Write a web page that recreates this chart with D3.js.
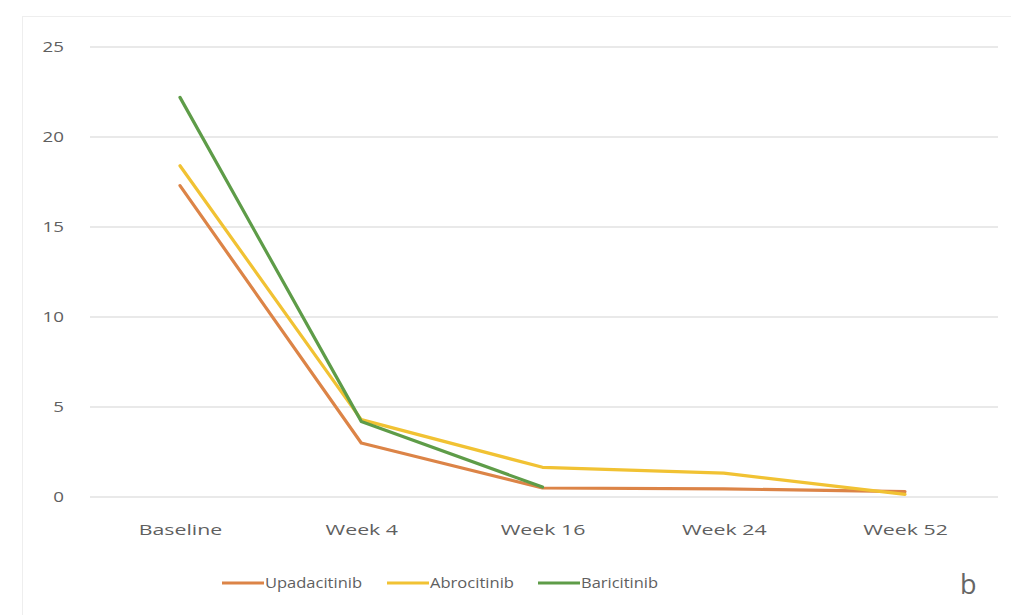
<!DOCTYPE html>
<html><head><meta charset="utf-8">
<script src="https://cdn.jsdelivr.net/npm/d3@7"></script>
<style>body{margin:0;background:#fff;} svg{display:block;}</style>
</head><body>
<svg id="c" width="1011" height="615"></svg>
<script>
const categories = ["Baseline", "Week 4", "Week 16", "Week 24", "Week 52"];
const upadacitinib = [17.3, 3.0, 0.5, 0.45, 0.3];
const abrocitinib = [18.4, 4.3, 1.65, 1.33, 0.15];
const baricitinib = [22.2, 4.2, 0.55];
const yTicks = [0, 5, 10, 15, 20, 25];
const seriesNames = ["Upadacitinib", "Abrocitinib", "Baricitinib"];
const seriesColors = ["#dc8447", "#f1c233", "#5e9c48"];

const series = [upadacitinib, abrocitinib, baricitinib];
const svg = d3.select("#c");
const font = "'Open Sans', sans-serif";
const textColor = "#5f5f5f";

// faint chart border
svg.append("rect").attr("x", 22.5).attr("y", 16.5).attr("width", 1000).attr("height", 620)
  .attr("fill", "none").attr("stroke", "#eeeeee");

const x = d3.scalePoint().domain(categories).range([180, 905]);
const y = d3.scaleLinear().domain([0, 25]).range([497, 47]);

const grid = svg.append("g");
grid.selectAll("line").data(yTicks).join("line")
  .attr("x1", 90).attr("x2", 998)
  .attr("y1", d => y(d)).attr("y2", d => y(d))
  .attr("stroke", "#e2e2e2").attr("stroke-width", 1.5);

const yAxis = svg.append("g").attr("transform", "translate(64,0)")
  .call(d3.axisLeft(y).tickValues(yTicks).tickSize(0).tickPadding(0));
yAxis.select(".domain").remove();
yAxis.selectAll("text").attr("font-family", font).attr("font-size", 15).attr("fill", textColor)
  .attr("transform", "scale(1.25,1)");

const xAxis = svg.append("g").attr("transform", "translate(0,530)")
  .call(d3.axisBottom(x).tickSize(0).tickPadding(0));
xAxis.select(".domain").remove();
xAxis.selectAll("text").attr("font-family", font).attr("font-size", 15).attr("fill", textColor)
  .attr("y", 0).attr("dy", "0.35em").attr("transform", "scale(1.42,1)");

const line = d3.line().x((d, i) => x(categories[i])).y(d => y(d));
svg.append("g").selectAll("path").data(series).join("path")
  .attr("d", d => line(d)).attr("fill", "none")
  .attr("stroke", (d, i) => seriesColors[i]).attr("stroke-width", 3.2)
  .attr("stroke-linejoin", "round").attr("stroke-linecap", "round");

// legend
const legendX = [222, 387, 538];
const lg = svg.append("g").selectAll("g").data(seriesNames).join("g")
  .attr("transform", (d, i) => `translate(${legendX[i]},583)`);
lg.append("line").attr("x1", 0).attr("x2", 42).attr("y1", 0).attr("y2", 0)
  .attr("stroke", (d, i) => seriesColors[i]).attr("stroke-width", 3.2);
lg.append("text").attr("x", 43).attr("dy", "0.35em").text(d => d)
  .attr("font-family", font).attr("font-size", 15).attr("fill", textColor)
  .attr("textLength", (d, i) => [97, 84, 77][i]).attr("lengthAdjust", "spacingAndGlyphs");

svg.append("text").attr("x", 960).attr("y", 594).text("b")
  .attr("font-family", font).attr("font-size", 27).attr("fill", "#666");
</script>
</body></html>
